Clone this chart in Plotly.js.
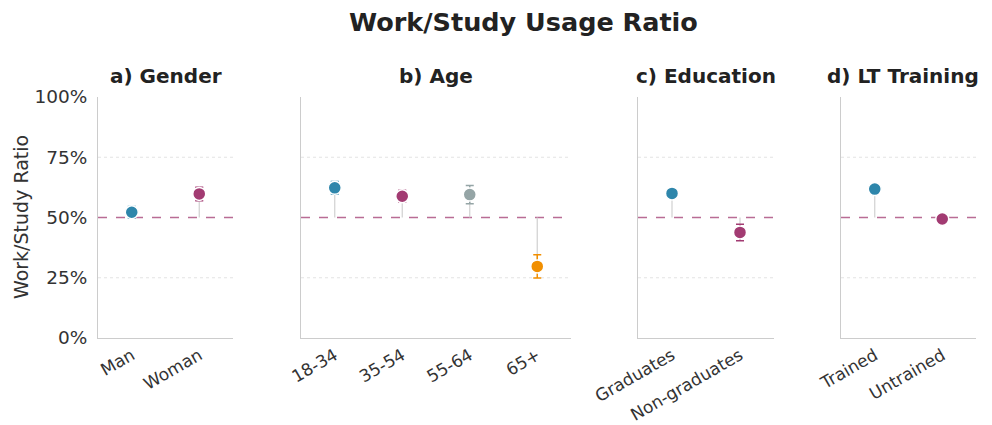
<!DOCTYPE html>
<html>
<head>
<meta charset="utf-8">
<script src="https://cdn.plot.ly/plotly-3.0.1.min.js"></script>
<style>html,body{margin:0;padding:0;background:#fff}#chart{width:992px;height:425px}</style>
</head>
<body>
<div id="chart"></div>
<script>
// Data
const panelTitles = ["a) Gender", "b) Age", "c) Education", "d) LT Training"];
const genderCats = ["Man", "Woman"];
const genderVals = [52.2, 59.8];
const genderErr = [2.4, 2.8];
const ageCats = ["18-34", "35-54", "55-64", "65+"];
const ageVals = [62.3, 58.8, 59.5, 29.7];
const ageErr = [2.6, 2.5, 3.8, 4.8];
const eduCats = ["Graduates", "Non-graduates"];
const eduVals = [60.0, 43.8];
const eduErr = [1.5, 3.4];
const trainCats = ["Trained", "Untrained"];
const trainVals = [61.8, 49.4];
const trainErr = [1.5, 1.8];
const refValue = 50;
const yTicks = [0, 25, 50, 75, 100];
const yTickText = ["0%", "25%", "50%", "75%", "100%"];

const BLUE = "#2E86AB", PLUM = "#A23B72", GREY = "#95A5A6", ORANGE = "#F18F01";
const panels = [
  {cats: genderCats, vals: genderVals, err: genderErr, colors: [BLUE, PLUM]},
  {cats: ageCats, vals: ageVals, err: ageErr, colors: [BLUE, PLUM, GREY, ORANGE]},
  {cats: eduCats, vals: eduVals, err: eduErr, colors: [BLUE, PLUM]},
  {cats: trainCats, vals: trainVals, err: trainErr, colors: [BLUE, PLUM]}
];

const W = 992, H = 425;
const xDomPx = [[98, 233], [301, 571], [638, 774], [841, 976]];
const titleCenterPx = [166, 436, 706, 903];
const yTop = 97, yBot = 338;
const yDomain = [1 - yBot / H, 1 - yTop / H];
const FONT = "DejaVu Sans, sans-serif";

const traces = [];
const layout = {
  width: W, height: H,
  margin: {l: 0, r: 0, t: 0, b: 0},
  paper_bgcolor: "#fff", plot_bgcolor: "#fff",
  showlegend: false,
  font: {family: FONT, color: "#333", size: 16},
  shapes: [], annotations: []
};

panels.forEach((p, i) => {
  const n = i + 1;
  const xa = n === 1 ? "x" : "x" + n;
  const ya = n === 1 ? "y" : "y" + n;
  // stems
  p.cats.forEach((c, j) => {
    traces.push({
      type: "scatter", mode: "lines", xaxis: xa, yaxis: ya,
      x: [c, c], y: [refValue, p.vals[j]],
      line: {color: "#d0d0d0", width: 1.2}, hoverinfo: "skip"
    });
  });
  // points
  p.cats.forEach((c, j) => {
    traces.push({
      type: "scatter", mode: "markers", xaxis: xa, yaxis: ya,
      x: [c], y: [p.vals[j]],
      error_y: {type: "data", array: [p.err[j]], color: p.colors[j], thickness: 1.5, width: 4},
      marker: {size: 13, color: p.colors[j], line: {color: "#fff", width: 1.5}},
      cliponaxis: false
    });
  });
  const dom = [xDomPx[i][0] / W, xDomPx[i][1] / W];
  layout["xaxis" + (n === 1 ? "" : n)] = {
    domain: dom, anchor: ya, type: "category",
    range: [-0.5, p.cats.length - 0.5],
    showline: true, linecolor: "#cccccc", linewidth: 1,
    showgrid: false, zeroline: false,
    tickangle: -30, ticks: "", 
    tickfont: {size: 17, color: "#333", family: FONT},
    fixedrange: true
  };
  layout["yaxis" + (n === 1 ? "" : n)] = {
    domain: yDomain, anchor: xa, range: [0, 100],
    showline: true, linecolor: "#cccccc", linewidth: 1,
    showgrid: false, zeroline: false,
    tickvals: yTicks, ticktext: yTickText,
    showticklabels: n === 1,
    ticks: "outside", ticklen: 6, tickcolor: "rgba(0,0,0,0)",
    tickfont: {size: 18.5, color: "#333", family: FONT},
    fixedrange: true
  };
  // dotted grid lines at 25 and 75
  [25, 75].forEach(v => {
    layout.shapes.push({
      type: "line", xref: xa + " domain", yref: ya, x0: 0, x1: 1, y0: v, y1: v,
      line: {color: "#e3e3e3", width: 1, dash: "dot"}, layer: "below"
    });
  });
  // reference line at 50
  layout.shapes.push({
    type: "line", xref: xa + " domain", yref: ya, x0: 0, x1: 1, y0: refValue, y1: refValue,
    line: {color: "rgba(162,59,114,0.75)", width: 1.3, dash: "dash"}, layer: "below"
  });
  // panel title
  layout.annotations.push({
    text: "<b>" + panelTitles[i] + "</b>", xref: "paper", yref: "paper",
    x: titleCenterPx[i] / W, y: 1 - 76 / H, xanchor: "center", yanchor: "middle",
    showarrow: false, font: {size: 20, color: "#222", family: FONT}
  });
});

// main title
layout.annotations.push({
  text: "<b>Work/Study Usage Ratio</b>", xref: "paper", yref: "paper",
  x: 523 / W, y: 1 - 22 / H, xanchor: "center", yanchor: "middle",
  showarrow: false, font: {size: 25.5, color: "#222", family: FONT}
});
// y axis title
layout.annotations.push({
  text: "Work/Study Ratio", xref: "paper", yref: "paper",
  x: 21 / W, y: 1 - 217 / H, xanchor: "center", yanchor: "middle", textangle: -90,
  showarrow: false, font: {size: 19, color: "#333", family: FONT}
});

Plotly.newPlot("chart", traces, layout, {staticPlot: true, displayModeBar: false});
</script>
</body>
</html>
